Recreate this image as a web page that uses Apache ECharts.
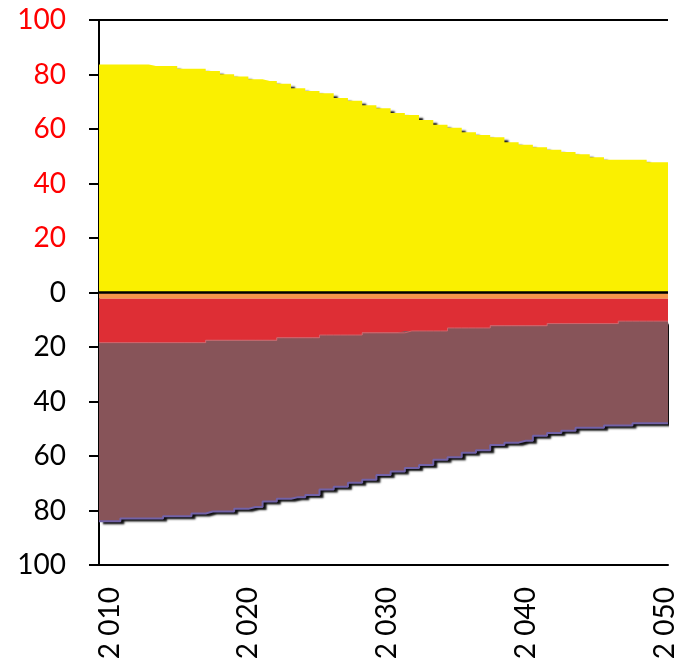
<!DOCTYPE html>
<html>
<head>
<meta charset="utf-8">
<script src="https://cdn.jsdelivr.net/npm/echarts@6/dist/echarts.min.js"></script>
<style>html,body{margin:0;padding:0;background:#fff}#c{width:679px;height:668px}</style>
</head>
<body>
<div id="c"></div>
<script>
const years = [2010,2011,2012,2013,2014,2015,2016,2017,2018,2019,2020,2021,2022,2023,2024,2025,2026,2027,2028,2029,2030,2031,2032,2033,2034,2035,2036,2037,2038,2039,2040,2041,2042,2043,2044,2045,2046,2047,2048,2049,2050];
const yellowTop = [83.7,83.7,83.7,83.7,83.1,83.1,82.1,82.1,81.3,80.1,79.3,78.3,77.6,76.6,75.0,73.9,73.1,71.4,70.4,68.7,67.6,65.9,65.1,63.3,61.6,60.5,58.8,57.8,57.0,55.1,54.2,53.3,52.4,51.6,50.7,49.6,48.7,48.7,48.7,47.8,47.8];
const orangeBottom = [2.3,2.3,2.3,2.3,2.3,2.3,2.3,2.3,2.3,2.3,2.3,2.3,2.3,2.3,2.3,2.3,2.3,2.3,2.3,2.3,2.3,2.3,2.3,2.3,2.3,2.3,2.3,2.3,2.3,2.3,2.3,2.3,2.3,2.3,2.3,2.3,2.3,2.3,2.3,2.3,2.3];
const redBottom = [18.4,18.4,18.4,18.4,18.4,18.4,18.4,18.4,17.5,17.5,17.5,17.5,17.5,16.6,16.6,16.6,15.6,15.6,15.6,14.8,14.8,14.8,14.1,14.1,14.1,13.0,13.0,13.0,12.2,12.2,12.2,12.2,11.4,11.4,11.4,11.4,11.4,10.5,10.5,10.5,10.5];
const brownBottom = [83.9,83.9,82.9,82.9,82.9,82.1,82.1,81.1,80.4,80.4,79.4,78.7,76.7,75.7,75.1,74.3,72.3,71.3,69.8,68.7,67.0,65.7,64.4,63.3,61.4,60.5,58.8,57.9,56.0,55.1,54.4,52.6,51.6,50.7,49.6,49.6,48.8,48.8,48.0,48.0,48.0];
const xTickLabels = [2010,2020,2030,2040,2050];
const yTicks = [-100,-80,-60,-40,-20,0,20,40,60,80,100];

const chart = echarts.init(document.getElementById('c'), null, {renderer:'canvas'});
const FONT = 'Lato';
const orangeBand = orangeBottom.map(v=>-v);
const redBand = redBottom.map((v,i)=>-(v-orangeBottom[i]));
const brownBand = brownBottom.map((v,i)=>-(v-redBottom[i]));
const shadow = {shadowColor:'rgba(0,0,0,0.95)', shadowBlur:2, shadowOffsetX:4, shadowOffsetY:3};

chart.setOption({
  animation:false,
  grid:{left:99, right:11, top:20, bottom:103, containLabel:false, outerBoundsMode:'none'},
  xAxis:[{
    type:'category', data:years.map(String), boundaryGap:false,
    axisLine:{show:true, onZero:false, lineStyle:{color:'#000', width:2}},
    axisTick:{show:false},
    splitLine:{show:false},
    axisLabel:{show:false}
  },{
    // label-only axis: spreads the year labels the way the original does
    type:'value', position:'bottom', min:2009.244, max:2050.216,
    axisLine:{show:false}, axisTick:{show:false}, splitLine:{show:false},
    axisLabel:{
      customValues:xTickLabels, rotate:90, margin:22, fontFamily:FONT, fontSize:28, color:'#000',
      hideOverlap:false, showMinLabel:true, showMaxLabel:true,
      formatter:(v)=>{const s=String(v); return s.slice(0,1)+' '+s.slice(1);}
    }
  }],
  yAxis:{
    type:'value', min:yTicks[0], max:yTicks[yTicks.length-1], interval:20,
    axisLine:{show:true, lineStyle:{color:'#000', width:2}},
    axisTick:{show:true, length:10, lineStyle:{color:'#000', width:2}},
    splitLine:{show:false},
    axisLabel:{
      margin:33, fontFamily:FONT, fontSize:28,
      color:(v)=> Number(v) > 0 ? '#ff0000' : '#000000',
      formatter:(v)=>String(Math.abs(v))
    }
  },
  series:[
    {type:'line', name:'yellow', step:'middle', showSymbol:false, clip:false,
     data:yellowTop, lineStyle:{width:0},
     areaStyle:Object.assign({color:'#faf000', opacity:1}, shadow)},
    {type:'line', name:'orange', stack:'neg', step:'middle', showSymbol:false, clip:false,
     data:orangeBand, lineStyle:{width:0}, areaStyle:{color:'#f5974a', opacity:1}},
    {type:'line', name:'red', stack:'neg', step:'middle', showSymbol:false, clip:false,
     data:redBand, lineStyle:{width:1, color:'#d0636a'}, areaStyle:{color:'#de2e35', opacity:1}},
    {type:'line', name:'brown', stack:'neg', step:'middle', showSymbol:false, clip:false,
     data:brownBand, lineStyle:{width:2, color:'#7262a8'},
     areaStyle:Object.assign({color:'#875459', opacity:1}, shadow),
     markLine:{silent:true, symbol:'none', label:{show:false},
       lineStyle:{color:'#000', width:2, type:'solid'},
       data:[{yAxis:0, lineStyle:{width:2.5}},{yAxis:100}]}}
  ]
});
</script>
</body>
</html>
